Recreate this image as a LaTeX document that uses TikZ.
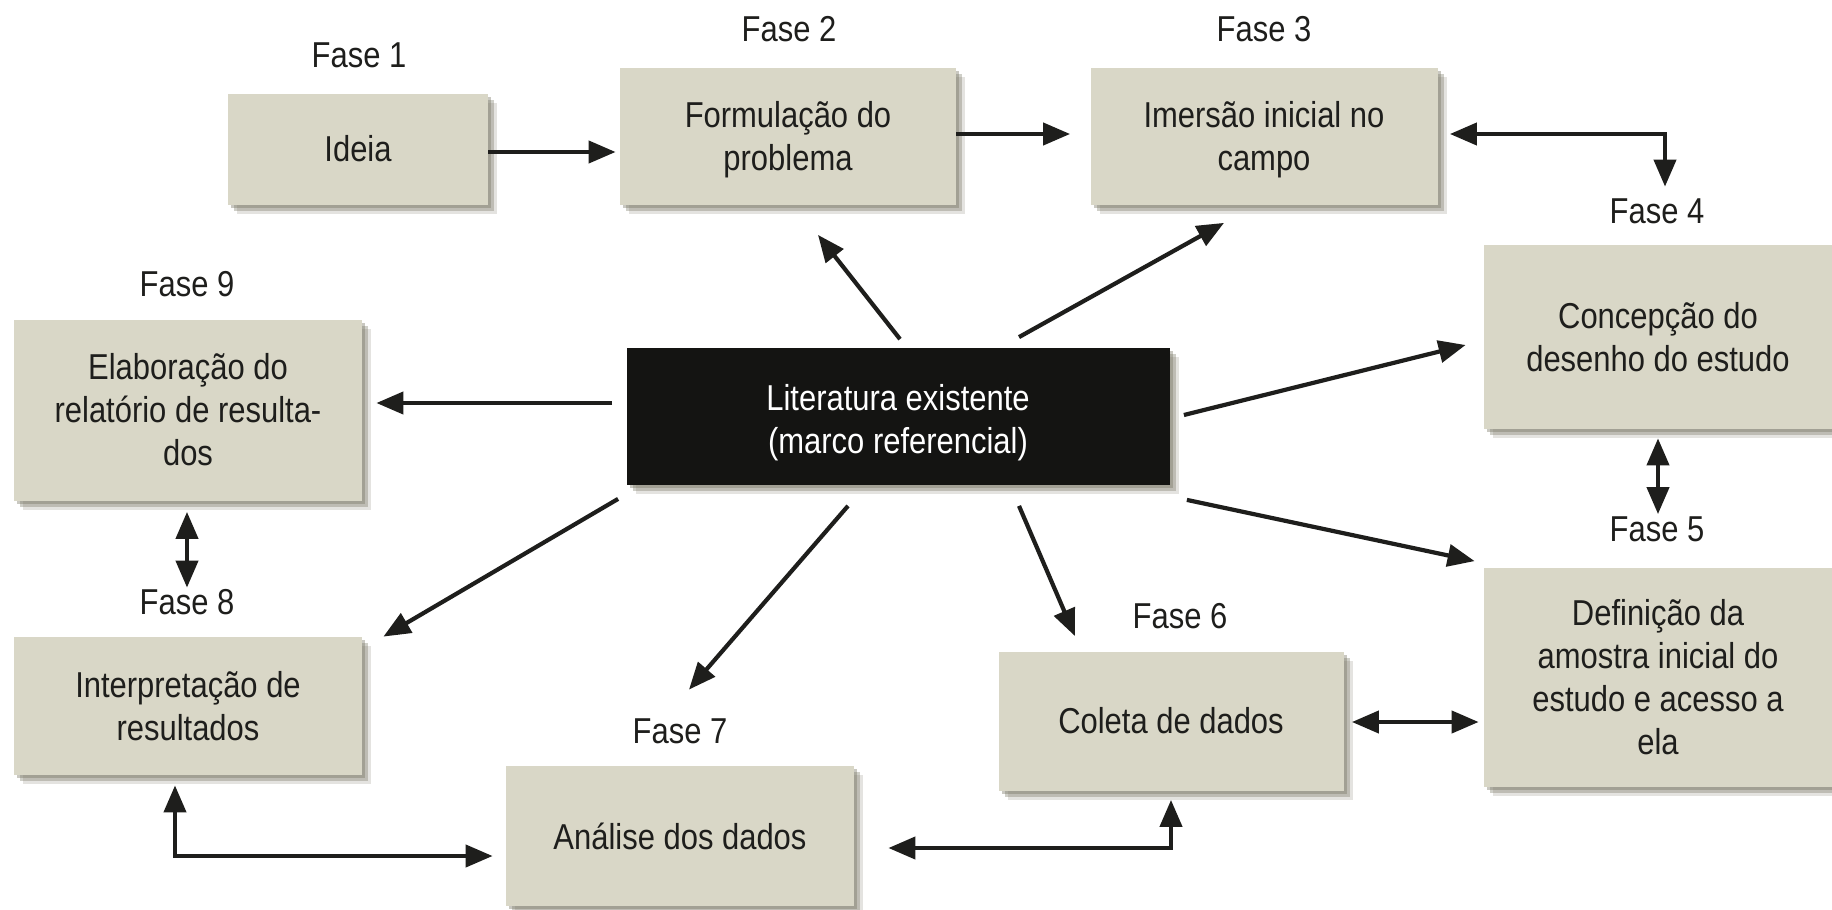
\documentclass[tikz,border=0pt]{standalone}
\usepackage{fontspec}
\setmainfont{Liberation Sans}[FakeStretch=0.86]
\usetikzlibrary{arrows.meta,shadows}
\definecolor{boxfill}{RGB}{217,215,199}
\definecolor{shad}{RGB}{120,118,100}
\definecolor{ink}{RGB}{30,30,28}
\definecolor{litfill}{RGB}{20,20,18}
\begin{document}
\begin{tikzpicture}[x=0.5pt,y=-0.5pt,
  phase/.style={fill=boxfill, inner sep=0pt, align=center, text=ink,
    font=\fontsize{18}{21.5}\selectfont,
    general shadow={shadow xshift=4.5pt, shadow yshift=-4.5pt, fill=shad, opacity=0.2},
    general shadow={shadow xshift=3pt, shadow yshift=-3pt, fill=shad, opacity=0.35},
    general shadow={shadow xshift=1.5pt, shadow yshift=-1.5pt, fill=shad, opacity=0.4}},
  litbox/.style={phase, fill=litfill, text=white},
  boxtext/.style={inner sep=0pt, align=center, font=\fontsize{18}{21.5}\selectfont},
  faselbl/.style={font=\fontsize{18}{21}\selectfont, text=ink, inner sep=0pt},
  arr/.style={draw=ink, line width=2.1pt, -{Triangle[length=13.5pt,width=11pt]}},
  darr/.style={draw=ink, line width=2.1pt, {Triangle[length=13.5pt,width=11pt]}-{Triangle[length=13.5pt,width=11pt]}}
]
\useasboundingbox (0,0) rectangle (1832,910);
\fill[white] (0,0) rectangle (1832,910);

% boxes
\node[phase, minimum width=130pt, minimum height=55.5pt] (ideia) at (358,149) {Ideia};
\node[phase, minimum width=168pt, minimum height=68.5pt] (form) at (788,136) {};
\node[boxtext, text=ink] (formtxt) at (788,140) {Formulação do\\problema};
\node[phase, minimum width=173.5pt, minimum height=68.5pt] (imer) at (1264,136) {};
\node[boxtext, text=ink] (imertxt) at (1264,140) {Imersão inicial no\\campo};
\node[phase, minimum width=174pt, minimum height=92pt] (conc) at (1658,337) {Concepção do\\desenho do estudo};
\node[phase, minimum width=174pt, minimum height=109.5pt] (def) at (1658,677) {Definição da\\amostra inicial do\\estudo e acesso a\\ela};
\node[phase, minimum width=172.5pt, minimum height=69.5pt] (coleta) at (1171,721) {Coleta de dados};
\node[phase, minimum width=174pt, minimum height=70pt] (anal) at (680,836) {Análise dos dados};
\node[phase, minimum width=174pt, minimum height=69pt] (interp) at (188,706) {Interpretação de\\resultados};
\node[phase, minimum width=174pt, minimum height=90.5pt] (elab) at (188,410) {Elaboração do\\relatório de resulta-\\dos};
\node[litbox, minimum width=271.5pt, minimum height=68.5pt] (lit) at (898,416) {};
\node[boxtext, text=white] (littxt) at (898,423) {Literatura existente\\(marco referencial)};

% phase labels
\node[faselbl] (f1) at (359,55) {Fase 1};
\node[faselbl] (f2) at (789,29) {Fase 2};
\node[faselbl] (f3) at (1264,29) {Fase 3};
\node[faselbl] (f4) at (1657,211) {Fase 4};
\node[faselbl] (f5) at (1657,529) {Fase 5};
\node[faselbl] (f6) at (1180,616) {Fase 6};
\node[faselbl] (f7) at (680,731) {Fase 7};
\node[faselbl] (f8) at (187,602) {Fase 8};
\node[faselbl] (f9) at (187,284) {Fase 9};

% sequence connectors
\draw[arr, shorten >=2pt] ([yshift=-1.5pt]ideia.east) -- ([yshift=-1.5pt]ideia.east -| form.west);
\draw[arr, shorten >=10pt] ([yshift=1pt]form.east) -- ([yshift=1pt]form.east -| imer.west);
\draw[darr, shorten <=6pt, shorten >=29pt] ([yshift=1pt]imer.east) -| ([xshift=3.5pt]conc.north);
\draw[darr, shorten <=4.5pt, shorten >=26.5pt] (conc.south) -- (def.north);
\draw[darr, shorten <=4pt, shorten >=2.5pt] ([yshift=-0.5pt]coleta.east) -- ([yshift=-0.5pt]coleta.east -| def.west);
\draw[darr, shorten <=17pt, shorten >=4.5pt] ([yshift=-6pt]anal.east) -| (coleta.south);
\draw[darr, shorten <=5pt, shorten >=6.5pt] ([xshift=-6.5pt]interp.south) |- ([yshift=-10pt]anal.west);
\draw[darr, shorten <=5.5pt, shorten >=24.5pt] ([xshift=-0.5pt]elab.south) -- ([xshift=-0.5pt]interp.north);

% radial connectors from the literature
\draw[arr] ([shift={(2,-8)}]lit.north) -- ([shift={(30,30)}]form.south);
\draw[arr] ([shift={(121,-10)}]lit.north) -- ([shift={(-40,18)}]imer.south);
\draw[arr] ([shift={(14,-1)}]lit.east) -- ([shift={(-18,8)}]conc.west);
\draw[arr] ([shift={(17,15)}]lit.south east) -- ([shift={(-9,-6)}]def.north west);
\draw[arr] ([shift={(121,21)}]lit.south) -- ([shift={(-96,-15)}]coleta.north);
\draw[arr] ([shift={(-50,21)}]lit.south) -- ([shift={(9,-76)}]anal.north);
\draw[arr] ([shift={(-8,14)}]lit.south west) -- ([shift={(21,0)}]interp.north east);
\draw[arr] ([shift={(-14,-13)}]lit.west) -- ([shift={(14,-7)}]elab.east);
\end{tikzpicture}
\end{document}
